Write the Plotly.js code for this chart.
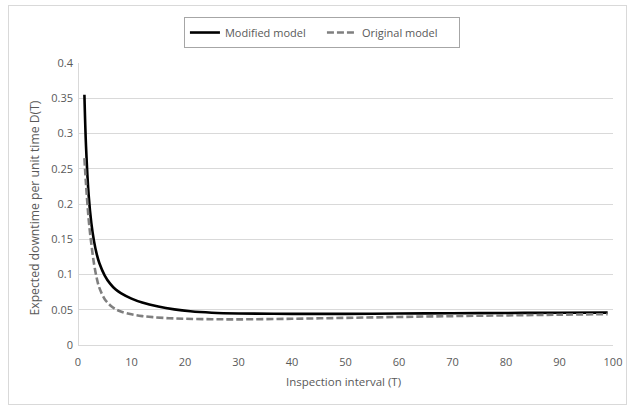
<!DOCTYPE html>
<html>
<head>
<meta charset="utf-8">
<script src="https://cdn.plot.ly/plotly-3.0.1.min.js"></script>
<style>
  html, body { margin: 0; padding: 0; background: #ffffff; }
  #wrap { position: relative; width: 632px; height: 407px; }
  #chart { position: absolute; left: 0; top: 0; width: 632px; height: 407px; }
  #frame { position: absolute; left: 8px; top: 5px; width: 617px; height: 398px;
           border: 1px solid #d9d9d9; pointer-events: none; }
</style>
</head>
<body>
<div id="wrap">
  <div id="chart"></div>
  <div id="frame"></div>
</div>
<script>
// Inspection interval T and expected downtime D(T)
const modifiedT = [1.2, 1.5, 2, 2.5, 3, 3.5, 4, 5, 6, 7, 8, 10, 12, 15, 18, 21, 25, 30, 40, 50, 60, 70, 80, 90, 99];
const modifiedD = [0.355, 0.282, 0.212, 0.1725, 0.147, 0.129, 0.116, 0.0985, 0.087, 0.079, 0.0736, 0.0658, 0.0602, 0.0545, 0.0505, 0.0478, 0.0458, 0.0447, 0.0442, 0.0442, 0.0446, 0.045, 0.0454, 0.0458, 0.046];

const originalT = [1.2, 1.5, 2, 2.5, 3, 3.5, 4, 5, 6, 7, 8, 10, 12, 14, 17, 20, 25, 30, 40, 50, 60, 70, 80, 90, 99];
const originalD = [0.265, 0.228, 0.178, 0.143, 0.115, 0.095, 0.081, 0.065, 0.0565, 0.051, 0.0475, 0.0435, 0.041, 0.0395, 0.038, 0.0372, 0.0366, 0.0364, 0.0372, 0.0385, 0.0398, 0.041, 0.042, 0.043, 0.0438];

const seriesNames = ["Modified model", "Original model"];
const xTicks = [0, 10, 20, 30, 40, 50, 60, 70, 80, 90, 100];
const yTicks = [0, 0.05, 0.1, 0.15, 0.2, 0.25, 0.3, 0.35, 0.4];
const yTickText = ["0", "0.05", "0.1", "0.15", "0.2", "0.25", "0.3", "0.35", "0.4"];
const xTitle = "Inspection interval (T)";
const yTitle = "Expected downtime per unit time D(T)";

const fontFam = "Open Sans, Liberation Sans, sans-serif";
const textColor = "#595959";
const axisGray = "#d9d9d9";

const traces = [
  {
    x: modifiedT, y: modifiedD, name: seriesNames[0], type: "scatter", mode: "lines",
    line: { color: "#000000", width: 2.6, shape: "spline", smoothing: 1 }
  },
  {
    x: originalT, y: originalD, name: seriesNames[1], type: "scatter", mode: "lines",
    line: { color: "#7f7f7f", width: 2.6, dash: "7px,3px", shape: "spline", smoothing: 1 }
  }
];

const layout = {
  width: 632, height: 407,
  margin: { l: 73, r: 19, t: 63, b: 53 },
  paper_bgcolor: "#ffffff", plot_bgcolor: "#ffffff",
  font: { family: fontFam, size: 11, color: textColor },
  showlegend: true,
  legend: {
    orientation: "h", x: 0.461, xanchor: "center", y: 1.158, yanchor: "top",
    bordercolor: "#a6a6a6", borderwidth: 1, bgcolor: "#ffffff",
    font: { family: fontFam, size: 11, color: textColor },
    entrywidth: 92, entrywidthmode: "pixels", tracegroupgap: 0
  },
  xaxis: {
    domain: [0.00926, 1], anchor: "free", position: 0,
    range: [0, 100], tickvals: xTicks, ticktext: xTicks.map(String),
    showgrid: false, showline: false,
    zeroline: true, zerolinecolor: axisGray, zerolinewidth: 1,
    ticks: "", tickfont: { family: fontFam, size: 11, color: textColor }
  },
  yaxis: {
    domain: [0.0309, 1], anchor: "free", position: 0,
    range: [0, 0.4], tickvals: yTicks, ticktext: yTickText,
    showgrid: true, gridcolor: axisGray, gridwidth: 1, showline: false,
    zeroline: true, zerolinecolor: axisGray, zerolinewidth: 1,
    ticks: "", tickfont: { family: fontFam, size: 11, color: textColor }
  },
  annotations: [
    {
      text: yTitle, xref: "paper", yref: "paper", x: 0, y: 0.5, xshift: -39,
      xanchor: "center", yanchor: "middle", textangle: -90, showarrow: false,
      font: { family: fontFam, size: 12.2, color: textColor }
    },
    {
      text: xTitle, xref: "paper", yref: "paper", x: 0.5, y: 0, yshift: -27,
      xanchor: "center", yanchor: "middle", showarrow: false,
      font: { family: fontFam, size: 11.5, color: textColor }
    }
  ]
};

Plotly.newPlot("chart", traces, layout, { displayModeBar: false, staticPlot: true });
</script>
</body>
</html>
